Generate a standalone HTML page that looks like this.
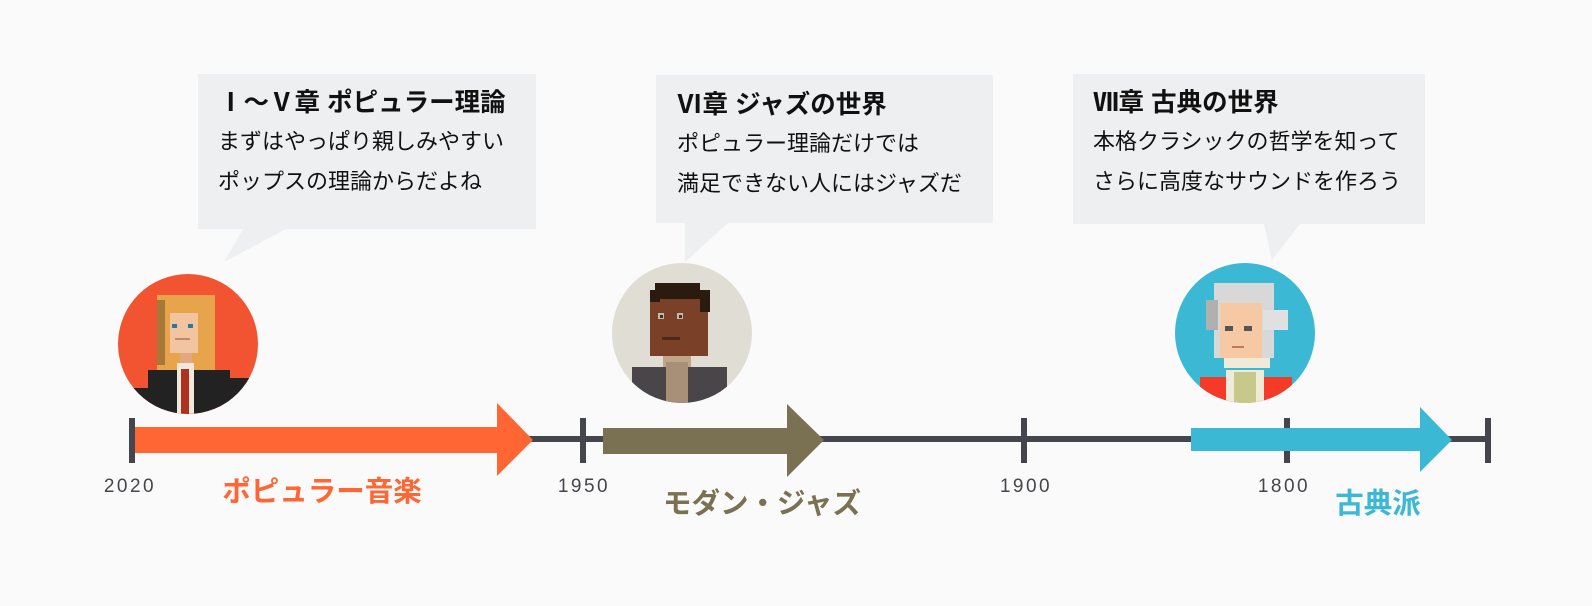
<!DOCTYPE html>
<html><head><meta charset="utf-8"><style>
html,body{margin:0;padding:0;background:#fafafa;}
svg{display:block}
.t{font-family:"Liberation Sans","Noto Sans CJK JP",sans-serif;}
</style></head><body>
<svg width="1592" height="606" viewBox="0 0 1592 606" xmlns="http://www.w3.org/2000/svg">
<rect width="1592" height="606" fill="#fafafa"/>
<g fill="#eeeff1">
<rect x="198" y="74" width="338" height="155"/>
<polygon points="243,229 286,229 224,262"/>
<rect x="656" y="75" width="337" height="148"/>
<polygon points="685,223 728,223 685,262"/>
<rect x="1073" y="74" width="352" height="150"/>
<polygon points="1264,224 1300,224 1272,260"/>
</g>
<g class="t" fill="#111">
<text x="218" y="111" font-size="25.5" font-weight="bold">Ⅰ～Ⅴ章 ポピュラー理論</text>
<text x="218" y="149" font-size="22">まずはやっぱり親しみやすい</text>
<text x="218" y="189" font-size="22">ポップスの理論からだよね</text>
<text x="677" y="113" font-size="25.5" font-weight="bold">Ⅵ章 ジャズの世界</text>
<text x="677" y="151" font-size="22">ポピュラー理論だけでは</text>
<text x="677" y="191" font-size="22">満足できない人にはジャズだ</text>
<text x="1093" y="111" font-size="25.5" font-weight="bold">Ⅶ章 古典の世界</text>
<text x="1093" y="149" font-size="22">本格クラシックの哲学を知って</text>
<text x="1093" y="189" font-size="22">さらに高度なサウンドを作ろう</text>
</g>
<rect x="132" y="436" width="1358" height="6" fill="#45464d"/>
<g fill="#45464d">
<rect x="129" y="418" width="6" height="45"/>
<rect x="580" y="418" width="6" height="45"/>
<rect x="1021" y="418" width="6" height="45"/>
<rect x="1284" y="418" width="6" height="45"/>
<rect x="1485" y="418" width="6" height="45"/>
</g>
<polygon fill="#ff6633" points="135,427 497,427 497,403 533,440 497,476 497,453 135,453"/>
<polygon fill="#7a7152" points="603,428 787,428 787,404 824,440 787,477 787,454 603,454"/>
<polygon fill="#3ab8d4" points="1191,428 1420,428 1420,407 1452,440 1420,472 1420,451 1191,451"/>
<g class="t" fill="#45464d" font-size="19" letter-spacing="2.5" text-anchor="middle">
<text x="130" y="492">2020</text>
<text x="584" y="492">1950</text>
<text x="1026" y="492">1900</text>
<text x="1284" y="492">1800</text>
</g>
<g class="t" font-size="28.5" font-weight="bold" text-anchor="middle">
<text x="322" y="501" fill="#ff6633">ポピュラー音楽</text>
<text x="762" y="513" fill="#7a7152">モダン・ジャズ</text>
<text x="1378" y="513" fill="#3ab8d4">古典派</text>
</g>
<defs>
<clipPath id="c1"><circle cx="188" cy="344" r="70"/></clipPath>
<clipPath id="c2"><circle cx="682" cy="333" r="70"/></clipPath>
<clipPath id="c3"><circle cx="1245" cy="333" r="70"/></clipPath>
</defs>
<circle cx="188" cy="344" r="70" fill="#f25432"/>
<g clip-path="url(#c1)">
<rect x="157" y="295" width="58" height="75" fill="#e8a44a"/>
<rect x="157" y="300" width="8" height="65" fill="#a87838"/>
<rect x="170" y="313" width="28" height="40" fill="#f2c4a0"/>
<rect x="172" y="324" width="5" height="4" fill="#2a7a9a"/>
<rect x="188" y="324" width="5" height="4" fill="#2a7a9a"/>
<rect x="175" y="338" width="15" height="2" fill="#c08a70"/>
<rect x="180" y="353" width="12" height="10" fill="#e2a880"/>
<rect x="148" y="370" width="82" height="60" fill="#222"/>
<rect x="118" y="388" width="30" height="40" fill="#222"/>
<rect x="228" y="378" width="30" height="50" fill="#222"/>
<rect x="177" y="363" width="17" height="60" fill="#efe8dc"/>
<rect x="181" y="369" width="8" height="55" fill="#b03020"/>
</g>
<circle cx="682" cy="333" r="70" fill="#e0ddd4"/>
<g clip-path="url(#c2)">
<rect x="650" y="296" width="58" height="60" fill="#7a4028"/>
<rect x="655" y="283" width="45" height="16" fill="#2a1a10"/>
<rect x="650" y="290" width="10" height="12" fill="#2a1a10"/>
<rect x="700" y="290" width="10" height="22" fill="#2a1a10"/>
<rect x="658" y="313" width="6" height="6" fill="#c8b8a8"/><rect x="660" y="315" width="3" height="3" fill="#333"/>
<rect x="677" y="313" width="6" height="6" fill="#c8b8a8"/><rect x="679" y="315" width="3" height="3" fill="#333"/>
<rect x="662" y="337" width="18" height="3" fill="#4a2a1a"/>
<rect x="663" y="356" width="28" height="12" fill="#c0a588"/>
<rect x="632" y="367" width="95" height="45" fill="#4a4548"/>
<rect x="666" y="362" width="22" height="50" fill="#a89078"/>
</g>
<circle cx="1245" cy="333" r="70" fill="#3ab8d4"/>
<g clip-path="url(#c3)">
<rect x="1214" y="283" width="60" height="75" fill="#d8d8d8"/>
<rect x="1206" y="300" width="12" height="30" fill="#b0b0b0"/>
<rect x="1263" y="310" width="25" height="20" fill="#e0e0e0"/>
<rect x="1220" y="303" width="42" height="55" fill="#f6c8a4"/>
<rect x="1225" y="326" width="8" height="5" fill="#555"/>
<rect x="1244" y="326" width="8" height="5" fill="#555"/>
<rect x="1232" y="346" width="12" height="2" fill="#c07860"/>
<rect x="1224" y="358" width="46" height="10" fill="#f0ead8"/>
<rect x="1200" y="377" width="92" height="40" fill="#f53a28"/>
<rect x="1226" y="370" width="38" height="45" fill="#f0ead8"/>
<rect x="1234" y="372" width="22" height="40" fill="#c8c88a"/>
</g>
</svg>
</body></html>
